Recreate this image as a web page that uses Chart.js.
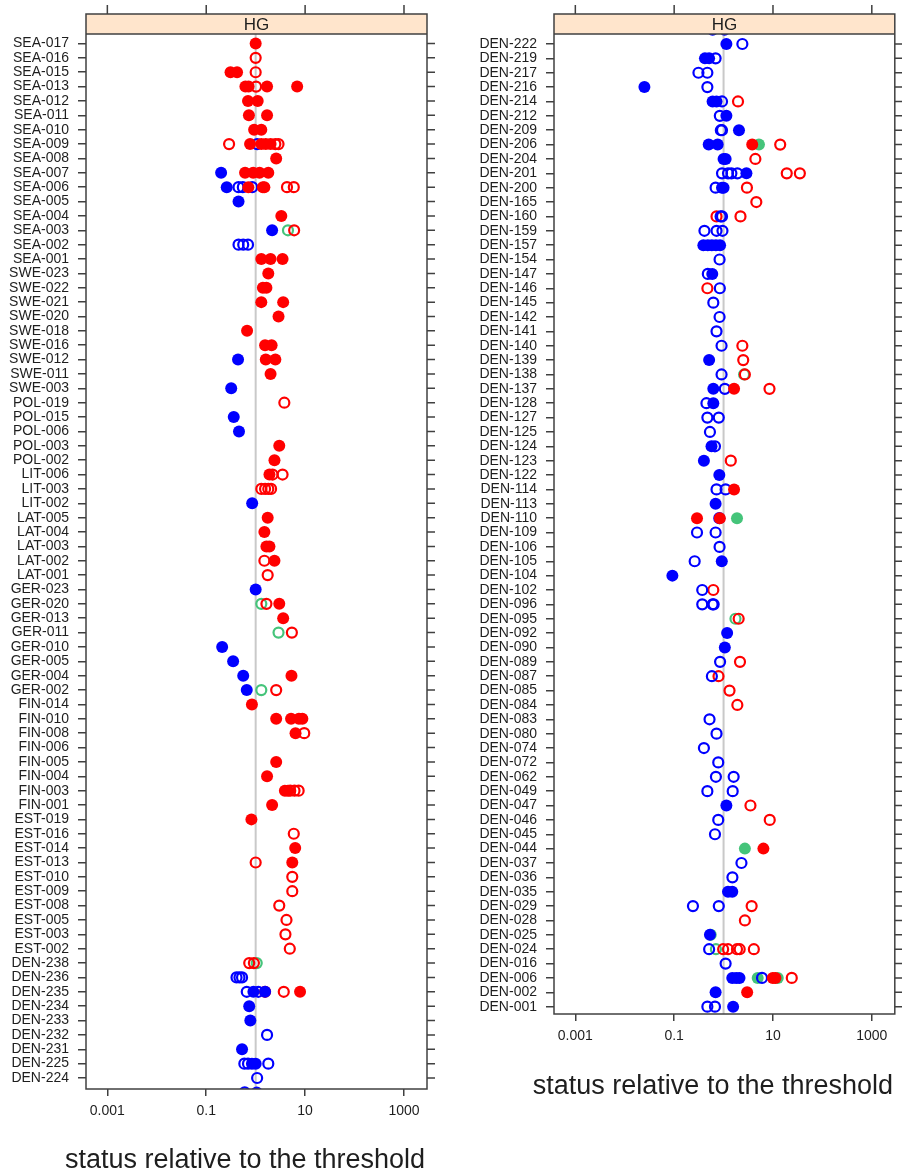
<!DOCTYPE html>
<html>
<head>
<meta charset="utf-8">
<script src="https://cdn.jsdelivr.net/npm/chart.js@4.4.1/dist/chart.umd.min.js"></script>
<style>
  body { margin: 0; background: #fff; }
  #wrap { position: relative; width: 902px; height: 1176px; }
  canvas { position: absolute; top: 0; }
</style>
</head>
<body>
<div id="wrap">
  <canvas id="chart-left" width="455" height="1176" style="left:0"></canvas>
  <canvas id="chart-right" width="447" height="1176" style="left:455px"></canvas>
</div>
<script>
// ***** data *****
// rows of each panel, top to bottom (DEN-223 is cut at the panel edge in both)
const leftRows = [
  "SEA-017", "SEA-016", "SEA-015", "SEA-013", "SEA-012", "SEA-011", "SEA-010", "SEA-009",
  "SEA-008", "SEA-007", "SEA-006", "SEA-005", "SEA-004", "SEA-003", "SEA-002", "SEA-001",
  "SWE-023", "SWE-022", "SWE-021", "SWE-020", "SWE-018", "SWE-016", "SWE-012", "SWE-011",
  "SWE-003", "POL-019", "POL-015", "POL-006", "POL-003", "POL-002", "LIT-006", "LIT-003",
  "LIT-002", "LAT-005", "LAT-004", "LAT-003", "LAT-002", "LAT-001", "GER-023", "GER-020",
  "GER-013", "GER-011", "GER-010", "GER-005", "GER-004", "GER-002", "FIN-014", "FIN-010",
  "FIN-008", "FIN-006", "FIN-005", "FIN-004", "FIN-003", "FIN-001", "EST-019", "EST-016",
  "EST-014", "EST-013", "EST-010", "EST-009", "EST-008", "EST-005", "EST-003", "EST-002",
  "DEN-238", "DEN-236", "DEN-235", "DEN-234", "DEN-233", "DEN-232", "DEN-231", "DEN-225",
  "DEN-224", "DEN-223",
];
const rightRows = [
  "DEN-223", "DEN-222", "DEN-219", "DEN-217", "DEN-216", "DEN-214", "DEN-212", "DEN-209",
  "DEN-206", "DEN-204", "DEN-201", "DEN-200", "DEN-165", "DEN-160", "DEN-159", "DEN-157",
  "DEN-154", "DEN-147", "DEN-146", "DEN-145", "DEN-142", "DEN-141", "DEN-140", "DEN-139",
  "DEN-138", "DEN-137", "DEN-128", "DEN-127", "DEN-125", "DEN-124", "DEN-123", "DEN-122",
  "DEN-114", "DEN-113", "DEN-110", "DEN-109", "DEN-106", "DEN-105", "DEN-104", "DEN-102",
  "DEN-096", "DEN-095", "DEN-092", "DEN-090", "DEN-089", "DEN-087", "DEN-085", "DEN-084",
  "DEN-083", "DEN-080", "DEN-074", "DEN-072", "DEN-062", "DEN-049", "DEN-047", "DEN-046",
  "DEN-045", "DEN-044", "DEN-037", "DEN-036", "DEN-035", "DEN-029", "DEN-028", "DEN-025",
  "DEN-024", "DEN-016", "DEN-006", "DEN-002", "DEN-001",
];

const xTicks = [0.001, 0.1, 10, 1000];
const xTickLabels = ["0.001", "0.1", "10", "1000"];
const threshold = 1;
const stripLabel = "HG";
const xTitle = "status relative to the threshold";

// [row, status]
const redFilled = [
  ["SEA-017", 1.0], ["SEA-015", 0.31], ["SEA-015", 0.42], ["SEA-013", 0.62], ["SEA-013", 0.72],
  ["SEA-013", 1.7], ["SEA-013", 6.9], ["SEA-012", 0.7], ["SEA-012", 1.1], ["SEA-011", 0.73],
  ["SEA-011", 1.7], ["SEA-010", 0.93], ["SEA-010", 1.3], ["SEA-009", 0.77], ["SEA-009", 1.3],
  ["SEA-009", 1.6], ["SEA-009", 2.0], ["SEA-008", 2.6], ["SEA-007", 0.61], ["SEA-007", 0.89],
  ["SEA-007", 1.2], ["SEA-007", 1.8], ["SEA-006", 0.71], ["SEA-006", 1.4], ["SEA-006", 1.5],
  ["SEA-004", 3.3], ["SEA-001", 1.3], ["SEA-001", 2.0], ["SEA-001", 3.5], ["SWE-023", 1.8],
  ["SWE-022", 1.4], ["SWE-022", 1.65], ["SWE-021", 1.3], ["SWE-021", 3.6], ["SWE-020", 2.9],
  ["SWE-018", 0.67], ["SWE-016", 1.55], ["SWE-016", 2.1], ["SWE-012", 1.6], ["SWE-012", 2.5],
  ["SWE-011", 2.0], ["POL-003", 3.0], ["POL-002", 2.4], ["LIT-006", 1.9], ["LAT-005", 1.75],
  ["LAT-004", 1.5], ["LAT-003", 1.65], ["LAT-003", 1.9], ["LAT-002", 2.4], ["GER-020", 3.0],
  ["GER-013", 3.6], ["GER-004", 5.3], ["FIN-014", 0.84], ["FIN-010", 2.6], ["FIN-010", 5.2],
  ["FIN-010", 7.5], ["FIN-010", 8.8], ["FIN-008", 6.4], ["FIN-005", 2.6], ["FIN-004", 1.7],
  ["FIN-003", 3.9], ["FIN-003", 4.5], ["FIN-001", 2.15], ["EST-019", 0.82], ["EST-014", 6.3],
  ["EST-013", 5.5], ["DEN-235", 7.9],
  ["DEN-206", 3.8], ["DEN-137", 1.63], ["DEN-114", 1.63], ["DEN-110", 0.29], ["DEN-110", 0.84],
  ["DEN-044", 6.4], ["DEN-006", 9.9], ["DEN-006", 11.2], ["DEN-002", 3.0],
];
const redOpen = [
  ["SEA-016", 1.0], ["SEA-015", 1.0], ["SEA-013", 1.02], ["SEA-009", 0.29], ["SEA-009", 2.5],
  ["SEA-009", 2.9], ["SEA-006", 4.3], ["SEA-006", 5.9], ["SEA-003", 6.0], ["POL-019", 3.8],
  ["LIT-006", 2.2], ["LIT-006", 3.5], ["LIT-003", 1.3], ["LIT-003", 1.55], ["LIT-003", 1.8],
  ["LIT-003", 2.05], ["LAT-002", 1.5], ["LAT-001", 1.75], ["GER-020", 1.65], ["GER-011", 5.4],
  ["GER-002", 2.6], ["FIN-008", 9.6], ["FIN-003", 5.0], ["FIN-003", 6.1], ["FIN-003", 7.4],
  ["EST-016", 5.9], ["EST-013", 1.0], ["EST-010", 5.5], ["EST-009", 5.5], ["EST-008", 3.0],
  ["EST-005", 4.2], ["EST-003", 4.0], ["EST-002", 4.9], ["DEN-238", 0.74], ["DEN-238", 0.92],
  ["DEN-235", 1.55], ["DEN-235", 3.7],
  ["DEN-214", 1.96], ["DEN-206", 14], ["DEN-204", 4.4], ["DEN-201", 19], ["DEN-201", 35],
  ["DEN-200", 2.97], ["DEN-165", 4.6], ["DEN-160", 0.72], ["DEN-160", 2.2], ["DEN-146", 0.47],
  ["DEN-140", 2.4], ["DEN-139", 2.5], ["DEN-138", 2.7], ["DEN-137", 8.5], ["DEN-123", 1.4],
  ["DEN-102", 0.62], ["DEN-095", 2.02], ["DEN-089", 2.15], ["DEN-087", 0.79], ["DEN-085", 1.32],
  ["DEN-084", 1.9], ["DEN-047", 3.5], ["DEN-046", 8.6], ["DEN-029", 3.7], ["DEN-028", 2.7],
  ["DEN-024", 0.98], ["DEN-024", 1.23], ["DEN-024", 1.87], ["DEN-024", 2.12], ["DEN-024", 4.1],
  ["DEN-006", 24],
];
const blueFilled = [
  ["SEA-007", 0.2], ["SEA-006", 0.26], ["SEA-005", 0.45], ["SEA-003", 2.15], ["SWE-012", 0.44],
  ["SWE-003", 0.32], ["POL-015", 0.36], ["POL-006", 0.46], ["LIT-002", 0.85], ["GER-023", 1.0],
  ["GER-010", 0.21], ["GER-005", 0.35], ["GER-004", 0.56], ["GER-002", 0.66], ["DEN-235", 0.9],
  ["DEN-235", 1.55], ["DEN-234", 0.74], ["DEN-233", 0.78], ["DEN-231", 0.53], ["DEN-225", 0.84],
  ["DEN-225", 1.0], ["DEN-223", 1.05],
  ["DEN-222", 1.14], ["DEN-219", 0.42], ["DEN-219", 0.51], ["DEN-216", 0.025], ["DEN-214", 0.6],
  ["DEN-214", 0.72], ["DEN-212", 1.14], ["DEN-209", 2.05], ["DEN-206", 0.5], ["DEN-206", 0.76],
  ["DEN-204", 1.0], ["DEN-204", 1.1], ["DEN-201", 2.9], ["DEN-200", 0.93], ["DEN-200", 1.0],
  ["DEN-157", 0.39], ["DEN-157", 0.48], ["DEN-157", 0.58], ["DEN-157", 0.7], ["DEN-157", 0.85],
  ["DEN-147", 0.59], ["DEN-139", 0.51], ["DEN-137", 0.62], ["DEN-128", 0.62], ["DEN-124", 0.57],
  ["DEN-123", 0.4], ["DEN-122", 0.82], ["DEN-113", 0.69], ["DEN-105", 0.92], ["DEN-104", 0.092],
  ["DEN-092", 1.18], ["DEN-090", 1.06], ["DEN-047", 1.14], ["DEN-035", 1.23], ["DEN-035", 1.5],
  ["DEN-025", 0.53], ["DEN-006", 1.5], ["DEN-006", 1.8], ["DEN-006", 2.1], ["DEN-002", 0.69],
  ["DEN-001", 1.56],
];
const blueOpen = [
  ["SEA-009", 1.07], ["SEA-006", 0.45], ["SEA-006", 0.55], ["SEA-006", 0.85], ["SEA-002", 0.45],
  ["SEA-002", 0.56], ["SEA-002", 0.7], ["DEN-236", 0.41], ["DEN-236", 0.47], ["DEN-236", 0.53],
  ["DEN-235", 0.66], ["DEN-235", 1.13], ["DEN-232", 1.7], ["DEN-225", 0.59], ["DEN-225", 0.7],
  ["DEN-225", 1.8], ["DEN-224", 1.07], ["DEN-223", 0.6],
  ["DEN-222", 2.4], ["DEN-219", 0.69], ["DEN-217", 0.31], ["DEN-217", 0.47], ["DEN-216", 0.47],
  ["DEN-214", 0.93], ["DEN-212", 0.84], ["DEN-209", 0.88], ["DEN-209", 0.93], ["DEN-201", 0.93],
  ["DEN-201", 1.23], ["DEN-201", 1.44], ["DEN-201", 1.9], ["DEN-200", 0.69], ["DEN-160", 0.87],
  ["DEN-160", 0.93], ["DEN-159", 0.41], ["DEN-159", 0.72], ["DEN-159", 0.95], ["DEN-154", 0.83],
  ["DEN-147", 0.48], ["DEN-146", 0.84], ["DEN-145", 0.62], ["DEN-142", 0.83], ["DEN-141", 0.72],
  ["DEN-140", 0.91], ["DEN-138", 0.91], ["DEN-137", 1.06], ["DEN-128", 0.45], ["DEN-127", 0.47],
  ["DEN-127", 0.8], ["DEN-125", 0.53], ["DEN-124", 0.67], ["DEN-114", 0.72], ["DEN-114", 1.1],
  ["DEN-110", 0.82], ["DEN-109", 0.29], ["DEN-109", 0.69], ["DEN-106", 0.83], ["DEN-105", 0.26],
  ["DEN-102", 0.37], ["DEN-096", 0.37], ["DEN-096", 0.6], ["DEN-096", 0.63], ["DEN-089", 0.85],
  ["DEN-087", 0.58], ["DEN-083", 0.52], ["DEN-080", 0.72], ["DEN-074", 0.4], ["DEN-072", 0.78],
  ["DEN-062", 0.7], ["DEN-062", 1.6], ["DEN-049", 0.47], ["DEN-049", 1.53], ["DEN-046", 0.78],
  ["DEN-045", 0.67], ["DEN-037", 2.3], ["DEN-036", 1.51], ["DEN-029", 0.24], ["DEN-029", 0.8],
  ["DEN-024", 0.51], ["DEN-016", 1.1], ["DEN-006", 6.0], ["DEN-001", 0.47], ["DEN-001", 0.67],
];
const greenFilled = [
  ["DEN-206", 5.2], ["DEN-110", 1.87], ["DEN-044", 2.7], ["DEN-025", 0.55], ["DEN-006", 4.9],
  ["DEN-006", 12.5],
];
const greenOpen = [
  ["SEA-003", 4.5], ["GER-020", 1.3], ["GER-011", 2.9], ["GER-002", 1.3], ["DEN-238", 1.05],
  ["DEN-138", 2.6], ["DEN-095", 1.74], ["DEN-024", 0.7],
];

// ***** styles *****
const RED = "#ff0000";
const BLUE = "#0000ff";
const GREEN = "#45c47a";
const AXIS = "#404040";
const TEXT = "#1e1e1e";
const FONT = '"Liberation Sans", Arial, sans-serif';

// first listed = drawn on top
const series = [
  { list: blueFilled, color: BLUE, filled: true },
  { list: redFilled, color: RED, filled: true },
  { list: blueOpen, color: BLUE, filled: false },
  { list: redOpen, color: RED, filled: false },
  { list: greenFilled, color: GREEN, filled: true },
  { list: greenOpen, color: GREEN, filled: false },
];

// panel layout (canvas pixels)
const panels = [
  { id: "chart-left", rows: leftRows, yMin: -0.661, yMax: 72.765,
    box: { left: 86, right: 427, top: 34, bottom: 1089 }, titleY: 1161 },
  { id: "chart-right", rows: rightRows, yMin: 0.304, yMax: 68.51,
    box: { left: 99, right: 441, top: 34, bottom: 1014 }, titleY: 1087 },
];
const stripTop = 14;

function decoPlugin(panel) {
  return {
    id: "deco",
    beforeDatasetsDraw(chart) {
      const { ctx, chartArea: a, scales: { x } } = chart;
      const px = x.getPixelForValue(threshold);
      ctx.save();
      ctx.strokeStyle = "#c9c9c9";
      ctx.lineWidth = 2;
      ctx.beginPath();
      ctx.moveTo(px, a.top);
      ctx.lineTo(px, a.bottom);
      ctx.stroke();
      ctx.restore();
    },
    afterDraw(chart) {
      const { ctx, chartArea: a, scales: { x, y } } = chart;
      ctx.save();
      // strip
      ctx.fillStyle = "#ffe5cc";
      ctx.fillRect(a.left, stripTop, a.right - a.left, a.top - stripTop);
      ctx.strokeStyle = AXIS;
      ctx.lineWidth = 1.5;
      ctx.strokeRect(a.left, stripTop, a.right - a.left, a.bottom - stripTop);
      ctx.beginPath();
      ctx.moveTo(a.left, a.top);
      ctx.lineTo(a.right, a.top);
      // ticks on top and right side
      x.ticks.forEach((t) => {
        const p = x.getPixelForValue(t.value);
        ctx.moveTo(p, stripTop);
        ctx.lineTo(p, stripTop - 9);
      });
      y.ticks.forEach((t) => {
        const p = y.getPixelForValue(t.value);
        ctx.moveTo(a.right, p);
        ctx.lineTo(a.right + 8, p);
      });
      ctx.stroke();
      ctx.fillStyle = TEXT;
      ctx.textAlign = "center";
      ctx.textBaseline = "middle";
      ctx.font = "17px " + FONT;
      ctx.fillText(stripLabel, (a.left + a.right) / 2, (stripTop + a.top) / 2 + 1);
      ctx.font = "27px " + FONT;
      ctx.fillText(xTitle, (a.left + a.right) / 2 - 11.5, panel.titleY);
      ctx.restore();
    },
  };
}

function makeChart(panel) {
  const canvas = document.getElementById(panel.id);
  const index = {};
  panel.rows.forEach((r, i) => (index[r] = i));

  const datasets = series.map((s) => ({
    data: s.list.filter((p) => p[0] in index).map((p) => ({ x: p[1], y: index[p[0]] })),
    pointRadius: s.filled ? 6 : 5,
    pointBorderWidth: s.filled ? 0 : 2.2,
    pointBackgroundColor: s.filled ? s.color : "rgba(0,0,0,0)",
    pointBorderColor: s.color,
    showLine: false,
    clip: 0,
  }));

  return new Chart(canvas, {
    type: "scatter",
    data: { datasets },
    options: {
      responsive: false,
      animation: false,
      events: [],
      layout: {
        padding: { left: 0, top: panel.box.top, right: canvas.width - panel.box.right, bottom: 0 },
      },
      plugins: { legend: { display: false }, tooltip: { enabled: false } },
      scales: {
        x: {
          type: "logarithmic",
          min: 0.00037,
          max: 2920,
          afterBuildTicks: (scale) => {
            scale.ticks = xTicks.map((v) => ({ value: v }));
          },
          afterFit: (scale) => {
            scale.height = canvas.height - panel.box.bottom;
          },
          ticks: {
            autoSkip: false,
            maxRotation: 0,
            padding: 7,
            color: TEXT,
            font: { family: FONT, size: 14 },
            callback: (v, i) => xTickLabels[i],
          },
          grid: { drawOnChartArea: false, tickLength: 7, color: AXIS, lineWidth: 1.5 },
          border: { display: false },
        },
        y: {
          type: "linear",
          reverse: true,
          min: panel.yMin,
          max: panel.yMax,
          afterBuildTicks: (scale) => {
            const t = [];
            for (let i = Math.ceil(panel.yMin); i <= Math.floor(panel.yMax); i++) t.push({ value: i });
            scale.ticks = t;
          },
          afterFit: (scale) => {
            scale.width = panel.box.left;
          },
          ticks: {
            autoSkip: false,
            padding: 9,
            color: TEXT,
            font: { family: FONT, size: 14 },
            callback: (v) => panel.rows[v],
          },
          grid: { drawOnChartArea: false, tickLength: 8, color: AXIS, lineWidth: 1.5 },
          border: { display: false },
        },
      },
    },
    plugins: [decoPlugin(panel)],
  });
}

const charts = panels.map(makeChart);
</script>
</body>
</html>
